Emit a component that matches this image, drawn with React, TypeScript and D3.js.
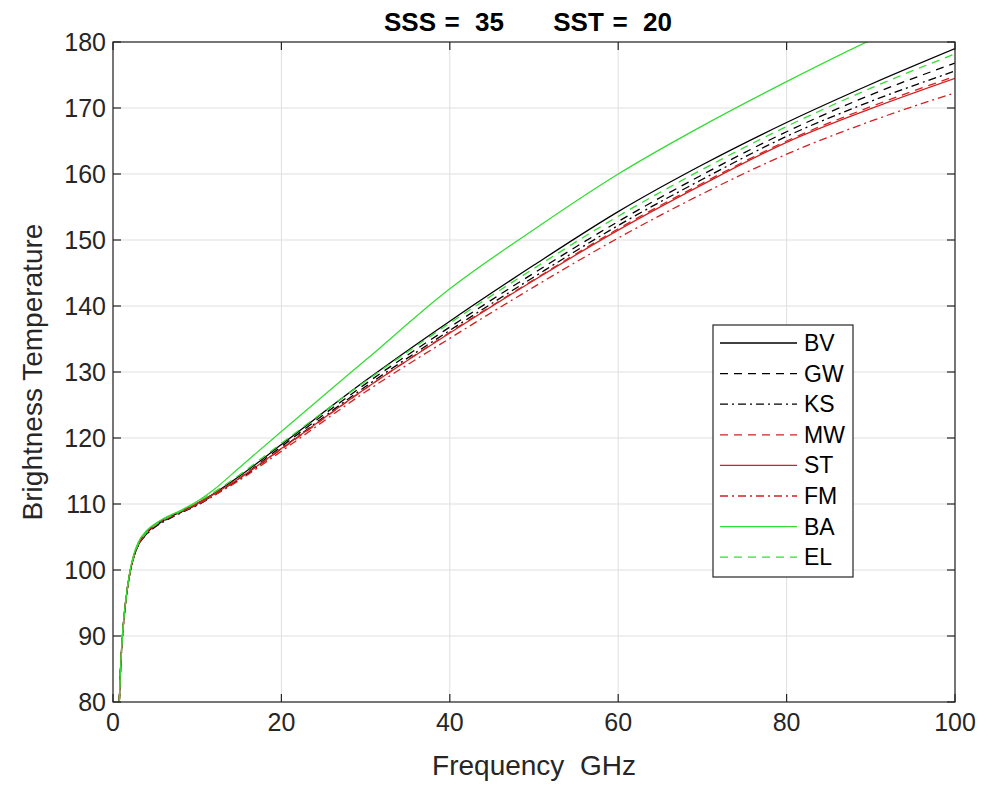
import React from "react";
import * as d3 from "d3";

const freq = [0.75, 0.8, 1, 1.2, 1.5, 2, 2.5, 3, 4, 5, 6, 8, 10, 12, 15, 20, 30, 40, 50, 60, 70, 80, 90, 100];

const BV = [80, 82, 87.5, 91.2, 95.1, 99.5, 102.1, 103.8, 105.6, 106.7, 107.5, 108.8, 110.1, 111.6, 114.2, 119.0, 128.7, 137.7, 146.2, 154.3, 161.4, 167.8, 173.6, 179.0];
const GW = [80, 82, 87.5, 91.2, 95.1, 99.5, 102.1, 103.8, 105.5, 106.6, 107.4, 108.7, 109.9, 111.4, 113.9, 118.7, 128.2, 136.8, 145.0, 152.8, 159.9, 166.4, 172.0, 176.8];
const KS = [80, 82, 87.5, 91.2, 95.1, 99.5, 102.1, 103.7, 105.4, 106.5, 107.3, 108.6, 109.8, 111.3, 113.7, 118.4, 127.8, 136.3, 144.4, 152.2, 159.2, 165.7, 171.0, 175.6];
const MW = [80, 82, 87.6, 91.3, 95.2, 99.6, 102.3, 104.0, 105.8, 106.8, 107.6, 108.8, 110.0, 111.5, 113.9, 118.3, 127.5, 136.0, 144.0, 151.7, 158.6, 165.0, 170.2, 174.8];
const ST = [80, 82, 87.6, 91.3, 95.2, 99.6, 102.3, 104.0, 105.8, 106.9, 107.7, 108.9, 110.1, 111.5, 113.9, 118.4, 127.5, 135.9, 143.9, 151.5, 158.4, 164.8, 169.9, 174.5];
const FM = [80, 82, 87.5, 91.2, 95.1, 99.5, 102.2, 103.8, 105.6, 106.7, 107.5, 108.7, 109.9, 111.3, 113.6, 118.0, 127.0, 135.1, 142.9, 150.3, 157.0, 163.0, 168.0, 172.3];
const BA = [80, 82, 87.6, 91.4, 95.3, 99.8, 102.5, 104.2, 106.0, 107.0, 107.8, 109.0, 110.4, 112.2, 115.5, 121.0, 131.8, 142.6, 151.6, 160.0, 167.3, 174.0, 180.3, 186.0];
const EL = [80, 82, 87.5, 91.2, 95.1, 99.5, 102.2, 103.9, 105.7, 106.8, 107.6, 108.9, 110.3, 111.8, 114.4, 119.2, 128.6, 137.4, 145.7, 153.6, 160.7, 167.2, 173.0, 178.2];

const seriesNames = ["BV", "GW", "KS", "MW", "ST", "FM", "BA", "EL"];
const seriesValues = [BV, GW, KS, MW, ST, FM, BA, EL];
const seriesColors = ["#000000", "#000000", "#000000", "#d42020", "#d42020", "#d42020", "#33dd33", "#33dd33"];
const seriesDash = ["", "8,6", "8,4,2,4", "8,6", "", "8,4,2,4", "", "8,6"];

const xTicks = [0, 20, 40, 60, 80, 100];
const yTicks = [80, 90, 100, 110, 120, 130, 140, 150, 160, 170, 180];

const titleParts = ["SSS", "=", "35", "SST", "=", "20"];
const titleCenters = [410, 452, 489.5, 578.5, 620, 657.5];

const W = 994;
const H = 790;
const L = 113;
const T = 42;
const R = 955;
const B = 702;

export default function App() {
  const x = d3.scaleLinear().domain([0, 100]).range([L, R]);
  const y = d3.scaleLinear().domain([80, 180]).range([B, T]);
  const font = "'Liberation Sans', Arial, Helvetica, sans-serif";
  const axisColor = "#262626";
  const tickLen = 8;

  const line = d3
    .line<number>()
    .x((_, i) => x(freq[i]))
    .y((d) => y(d))
    .curve(d3.curveMonotoneX);

  const legX = 713;
  const legY = 325;
  const legW = 140;
  const legH = 252;
  const legStep = 30.6;

  return (
    <div style={{ position: "absolute", left: 0, top: 0 }}>
      <svg width={W} height={H} style={{ display: "block", background: "#fff" }}>
        <defs>
          <clipPath id="plotclip">
            <rect x={L} y={T} width={R - L} height={B - T} />
          </clipPath>
        </defs>
        <rect x={0} y={0} width={W} height={H} fill="#fff" />
        {xTicks.map((t) => (
          <line key={"gx" + t} x1={x(t)} x2={x(t)} y1={T} y2={B} stroke="#dfdfdf" strokeWidth={1} />
        ))}
        {yTicks.map((t) => (
          <line key={"gy" + t} x1={L} x2={R} y1={y(t)} y2={y(t)} stroke="#dfdfdf" strokeWidth={1} />
        ))}
        <g clipPath="url(#plotclip)">
          {seriesValues.map((vals, i) => (
            <path
              key={seriesNames[i]}
              d={line(vals) || ""}
              fill="none"
              stroke={seriesColors[i]}
              strokeWidth={1.3}
              strokeDasharray={seriesDash[i] || undefined}
            />
          ))}
        </g>
        <rect x={L} y={T} width={R - L} height={B - T} fill="none" stroke={axisColor} strokeWidth={1.2} />
        {xTicks.map((t) => (
          <g key={"tx" + t}>
            <line x1={x(t)} x2={x(t)} y1={B} y2={B - tickLen} stroke={axisColor} strokeWidth={1.2} />
            <line x1={x(t)} x2={x(t)} y1={T} y2={T + tickLen} stroke={axisColor} strokeWidth={1.2} />
            <text x={x(t)} y={731} textAnchor="middle" fontFamily={font} fontSize={25} fill="#262626">
              {t}
            </text>
          </g>
        ))}
        {yTicks.map((t) => (
          <g key={"ty" + t}>
            <line x1={L} x2={L + tickLen} y1={y(t)} y2={y(t)} stroke={axisColor} strokeWidth={1.2} />
            <line x1={R} x2={R - tickLen} y1={y(t)} y2={y(t)} stroke={axisColor} strokeWidth={1.2} />
            <text x={106} y={y(t) + 9} textAnchor="end" fontFamily={font} fontSize={25} fill="#262626">
              {t}
            </text>
          </g>
        ))}
        <text x={(L + R) / 2} y={775} textAnchor="middle" fontFamily={font} fontSize={28} fill="#262626" style={{ whiteSpace: "pre" }}>
          {"Frequency  GHz"}
        </text>
        <text
          transform={`translate(42, ${(T + B) / 2}) rotate(-90)`}
          textAnchor="middle"
          fontFamily={font}
          fontSize={28}
          fill="#262626"
        >
          Brightness Temperature
        </text>
        {titleParts.map((p, i) => (
          <text key={"tt" + i} x={titleCenters[i]} y={31} textAnchor="middle" fontFamily={font} fontSize={26} fontWeight="bold" fill="#000">
            {p}
          </text>
        ))}
        <rect x={legX} y={legY} width={legW} height={legH} fill="#fff" stroke={axisColor} strokeWidth={1.2} />
        {seriesNames.map((n, i) => {
          const ly = legY + 18 + i * legStep;
          return (
            <g key={"leg" + n}>
              <line
                x1={legX + 7}
                x2={legX + 84}
                y1={ly}
                y2={ly}
                stroke={seriesColors[i]}
                strokeWidth={1.3}
                strokeDasharray={seriesDash[i] || undefined}
              />
              <text x={legX + 91} y={ly + 8} fontFamily={font} fontSize={23} fill="#000">
                {n}
              </text>
            </g>
          );
        })}
      </svg>
    </div>
  );
}
